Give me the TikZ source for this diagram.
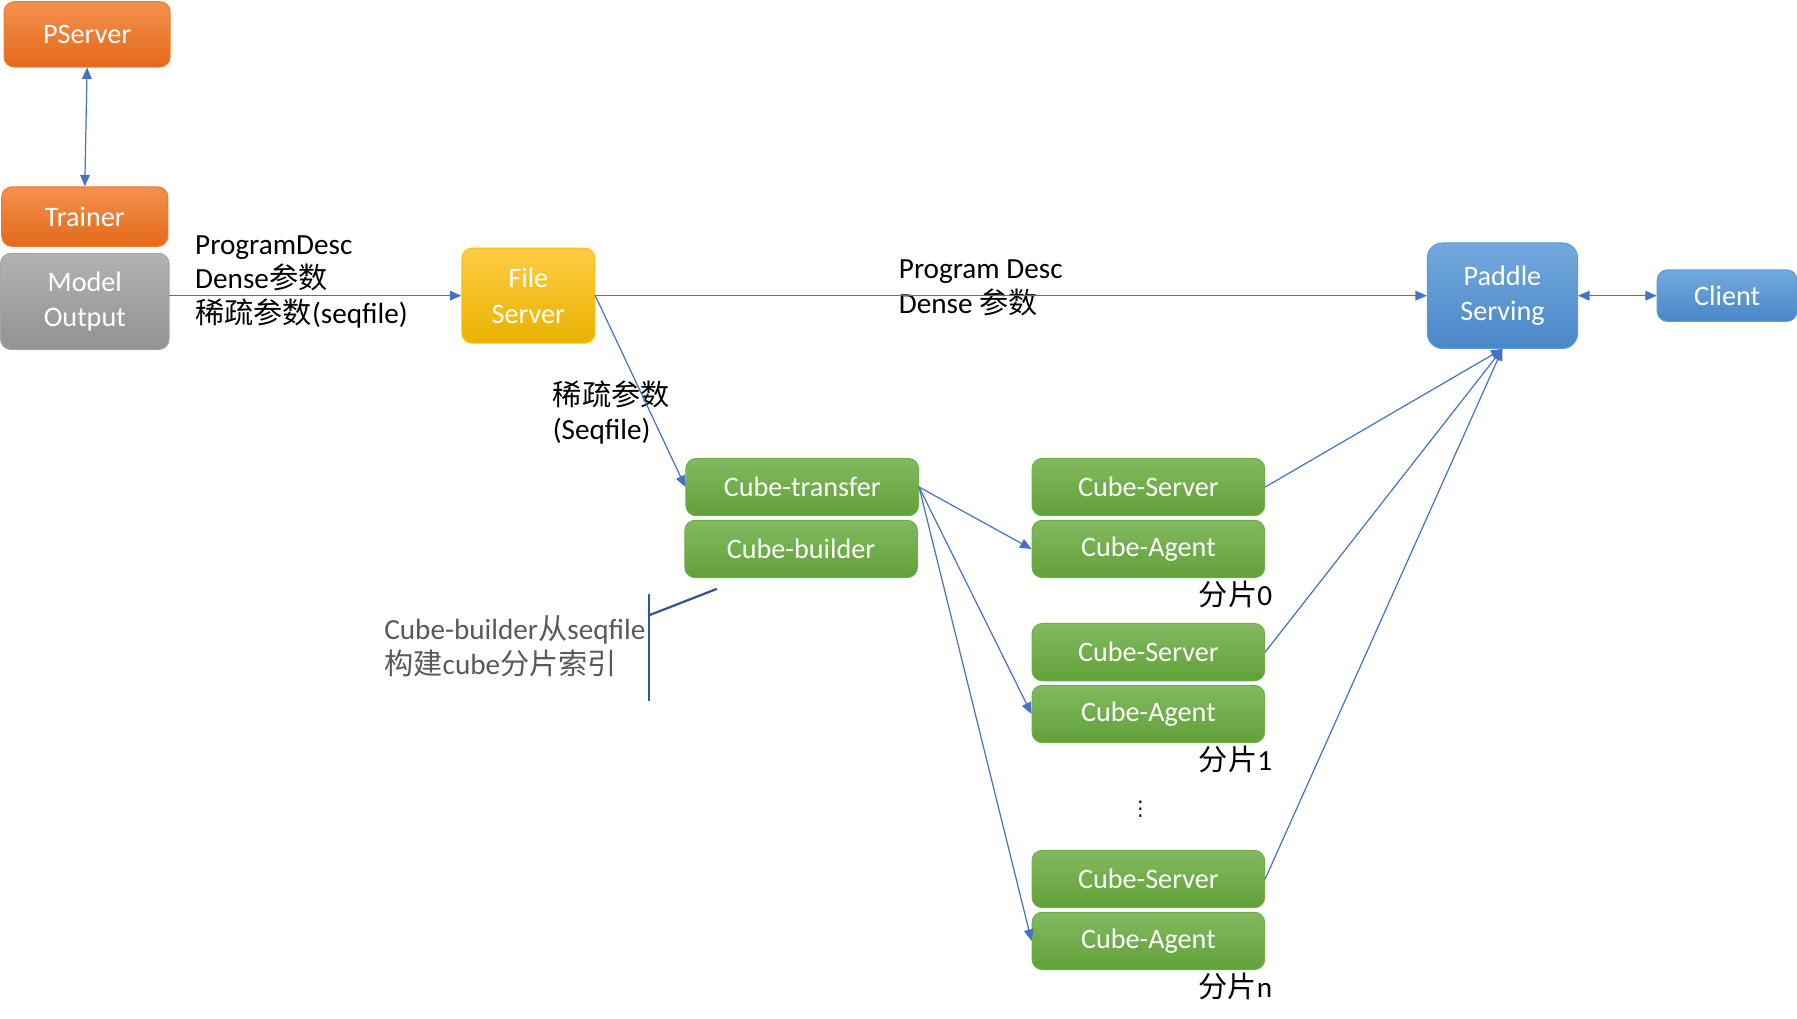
\documentclass[tikz,border=0pt]{standalone}
\usepackage{fontspec}
\setmainfont{Carlito}
\newfontfamily\cjk[Scale=1.0]{Noto Sans CJK SC}
\newfontfamily\symfont{DejaVu Sans}
\usepackage{tikz}
\usetikzlibrary{arrows.meta,positioning,calc}
\definecolor{arrowblue}{HTML}{4472C4}
\definecolor{callblue}{HTML}{2F5597}
\definecolor{notegray}{HTML}{595959}
\definecolor{orangetop}{HTML}{F3914F}
\definecolor{orangemid}{HTML}{F07C28}
\definecolor{orangebot}{HTML}{E3691A}
\definecolor{graytop}{HTML}{B2B2B2}
\definecolor{graymid}{HTML}{A5A5A5}
\definecolor{graybot}{HTML}{929292}
\definecolor{yellowtop}{HTML}{FFCB45}
\definecolor{yellowmid}{HTML}{FFC000}
\definecolor{yellowbot}{HTML}{E8B300}
\definecolor{greentop}{HTML}{82BA60}
\definecolor{greenmid}{HTML}{70AD47}
\definecolor{greenbot}{HTML}{61A138}
\definecolor{bluetop}{HTML}{73A9DD}
\definecolor{bluemid}{HTML}{5B9BD5}
\definecolor{bluebot}{HTML}{4A87C8}
\tikzset{
    every picture/.style={line cap=round,line join=round},
    block/.style={rounded corners=1.8mm,text=white,align=center,inner sep=2pt,
      line width=0.5pt,font=\fontsize{14}{17.6}\selectfont},
    orangebox/.style={block,top color=orangetop,middle color=orangemid,
      bottom color=orangebot,draw=orangemid,minimum width=29mm},
    graybox/.style={block,top color=graytop,middle color=graymid,
      bottom color=graybot,draw=graymid,minimum width=29.4mm,minimum height=16.8mm},
    yellowbox/.style={block,top color=yellowtop,middle color=yellowmid,
      bottom color=yellowbot,draw=yellowmid,minimum width=23.2mm,minimum height=16.6mm},
    bluebox/.style={block,top color=bluetop,middle color=bluemid,
      bottom color=bluebot,draw=bluemid},
    cubebox/.style={block,top color=greentop,middle color=greenmid,
      bottom color=greenbot,draw=greenmid,minimum width=40.6mm,minimum height=10mm},
    flowarrow/.style={-{Triangle[length=2mm,width=1.7mm]},draw=arrowblue,
      line width=0.6pt},
    botharrow/.style={{Triangle[length=2mm,width=1.7mm]}-{Triangle[length=2mm,width=1.7mm]},
      draw=arrowblue,line width=0.6pt},
    edgetext/.style={align=left,inner sep=0pt,text=black,
      font=\fontsize{14.5}{17.2}\selectfont},
    shardtext/.style={inner sep=0pt,text=black,font=\fontsize{14.5}{17}\selectfont}
}

\begin{document}
\begin{tikzpicture}[x=0.02cm,y=-0.02cm]
  \useasboundingbox (0,0) rectangle (1568,889);
  % training side
  \node[orangebox,minimum height=11.4mm] (pserver) at (76,30) {PServer};
  \node[orangebox,minimum height=10.4mm] (trainer) at (74,189) {Trainer};
  \node[graybox] (model) at (74,263) {Model\\Output};
  \node[yellowbox] (fileserver) at (461,258) {File\\Server};
  % serving side
  \node[bluebox,minimum width=26.2mm,minimum height=18.4mm,rounded corners=2.6mm]
    (paddle) at (1311,258) {Paddle\\Serving};
  \node[bluebox,minimum width=24.4mm,minimum height=9mm] (client) at (1507,258) {Client};
  % cube
  \node[cubebox] (transfer) at (700,425) {Cube-transfer};
  \node[cubebox] (builder) at (699,479) {Cube-builder};
  \foreach \i/\y in {0/425,1/569,n/767} {
    \node[cubebox] (srv\i) at (1002,\y) {Cube-Server};
    \node[cubebox] (agt\i) at (1002,{\y+54}) {Cube-Agent};
    \node[shardtext] (shard\i) at (1078,{\y+94}) {{\cjk 分片}\i};
    \draw[flowarrow] (transfer.east) -- (agt\i.west);
    \draw[flowarrow] (srv\i.east) -- (paddle.south);
  }
  \node[font=\symfont\fontsize{10}{10}\selectfont,inner sep=0pt] (dots) at (995,706) {⋮};
  % labels
  \node[edgetext,anchor=west] (desc1) at (170,246)
    {ProgramDesc\\Dense{\cjk 参数}\\{\cjk 稀疏参数}(seqfile)};
  \node[edgetext,anchor=west] (desc2) at (784,251) {Program Desc\\Dense {\cjk 参数}};
  \node[edgetext,anchor=west] (sparse) at (482,360) {{\cjk 稀疏参数}\\(Seqfile)};
  % arrows
  \draw[botharrow] (pserver.south) -- (trainer.north);
  \draw[flowarrow] (model.east |- fileserver.west) -- (fileserver.west);
  \draw[flowarrow] (fileserver.east) -- (paddle.west);
  \draw[flowarrow] (fileserver.east) -- (transfer.west);
  \draw[botharrow] (paddle.east) -- (client.west);
  % callout
  \node[edgetext,text=notegray,anchor=west] (note) at (335,564)
    {Cube-builder{\cjk 从}seqfile\\{\cjk 构建}cube{\cjk 分片索引}};
  \coordinate (calltop) at (566,519);
  \coordinate (callbot) at (566,611);
  \coordinate (callknee) at (566,537);
  \coordinate (calltip) at (625,514);
  \draw[callblue,line width=1.1pt] (calltop) -- (callbot);
  \draw[callblue,line width=1.1pt] (callknee) -- (calltip);
\end{tikzpicture}
\end{document}
